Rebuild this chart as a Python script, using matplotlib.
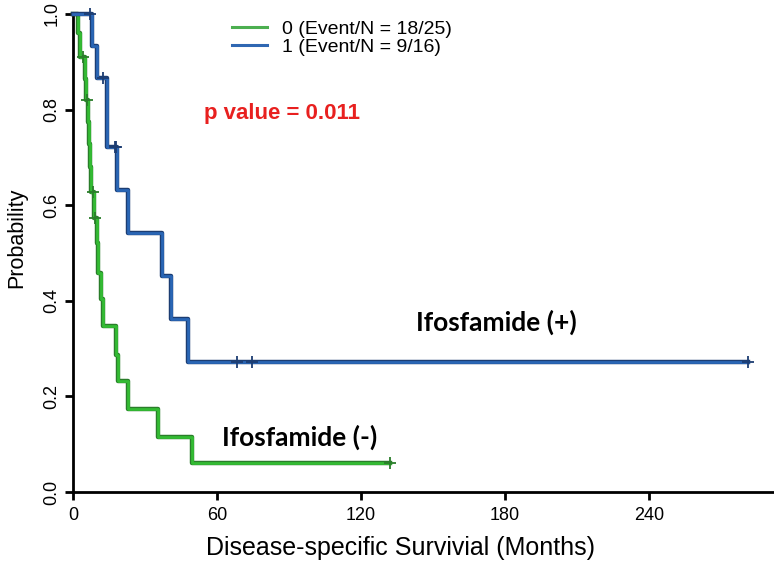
import numpy as np
import matplotlib
matplotlib.use("Agg")
import matplotlib.pyplot as plt
from matplotlib import font_manager
from matplotlib.lines import Line2D
import matplotlib.patheffects as pe

# ---------------- data ----------------
green_times = [0, 2.0, 3.0, 5.0, 5.5, 6.4, 6.6, 7.1, 7.5, 8.9, 10.0, 10.5, 11.7,
               12.6, 17.8, 18.9, 22.9, 35.4, 49.6]
green_surv = [1.0, 0.96, 0.91, 0.865, 0.82, 0.775, 0.728, 0.68, 0.628, 0.573,
              0.521, 0.459, 0.403, 0.347, 0.287, 0.232, 0.174, 0.115, 0.061]
green_censor = [4.2, 5.8, 8.5, 9.2, 132.0]

blue_times = [0, 7.8, 10.1, 14.0, 18.2, 23.0, 37.0, 41.0, 48.0]
blue_surv = [1.0, 0.933, 0.867, 0.722, 0.632, 0.542, 0.451, 0.361, 0.271]
blue_censor = [7.0, 12.6, 17.3, 17.8, 68.5, 74.5, 281.0]

legend_labels = ["0 (Event/N = 18/25)", "1 (Event/N = 9/16)"]
x_ticks = [0, 60, 120, 180, 240]
y_ticks = [0.0, 0.2, 0.4, 0.6, 0.8, 1.0]

# ---------------- fonts ----------------
names = {f.name for f in font_manager.fontManager.ttflist}
plt.rcParams['font.family'] = ['Liberation Sans', 'DejaVu Sans']
narrow = 'Liberation Sans Narrow' if 'Liberation Sans Narrow' in names else 'Liberation Sans'
bold_font = 'Lato' if 'Lato' in names else 'DejaVu Sans'

W, H = 774, 569
fig = plt.figure(figsize=(W / 100, H / 100), dpi=100)
x0, x1, ytop, ybot = 73, 774, 14, 492
ax = fig.add_axes([x0 / W, 1 - ybot / H, (x1 - x0) / W, (ybot - ytop) / H])
ax.set_xlim(0, 292)
ax.set_ylim(0, 1)

green_c, green_e = '#33bb33', '#2a7d2a'
blue_c, blue_e = '#2a66b5', '#1c3d72'


def km(ax, times, surv, censor, col, edge):
    end = max(censor)
    t = list(times) + [end]
    s = list(surv) + [surv[-1]]
    ax.step(t, s, where='post', color=col, lw=2.0, clip_on=False,
            path_effects=[pe.Stroke(linewidth=3.2, foreground=edge), pe.Normal()],
            zorder=3)
    idx = np.searchsorted(np.array(times), np.array(censor), side='right') - 1
    cy = np.array(surv)[idx]
    ax.plot(censor, cy, ls='none', marker='+', ms=9, mew=1.3, color=edge,
            clip_on=False, zorder=4)


km(ax, green_times, green_surv, green_censor, green_c, green_e)
km(ax, blue_times, blue_surv, blue_censor, blue_c, blue_e)

for s in ['top', 'right']:
    ax.spines[s].set_visible(False)
for s in ['left', 'bottom']:
    ax.spines[s].set_linewidth(2.0)
    ax.spines[s].set_color('black')

ax.set_xticks(x_ticks)
ax.set_xticklabels([str(v) for v in x_ticks], fontsize=13, family=narrow)
ax.set_yticks(y_ticks)
ax.set_yticklabels([f"{v:.1f}" for v in y_ticks], fontsize=13, rotation=90,
                   va='center')
ax.tick_params(axis='both', length=6, width=2, color='black')
ax.tick_params(axis='y', pad=3)
ax.tick_params(axis='x', pad=5)

handles = [Line2D([], [], color='#4caf50', lw=2.2), Line2D([], [], color='#2f67b2', lw=2.2)]
fig.legend(handles, legend_labels, loc='upper left',
           bbox_to_anchor=(232 / W, 1 - 20 / H), bbox_transform=fig.transFigure,
           frameon=False, fontsize=14, handlelength=1.8, handletextpad=0.75,
           labelspacing=0.05, borderpad=0, borderaxespad=0)

fig.text(204 / W, 1 - 113 / H, "p value = 0.011", color='#e8201f', fontsize=16,
         fontweight='bold', ha='left', va='center')

ax.text(143, 0.354, "Ifosfamide (+)", family=bold_font, fontweight='bold',
        fontsize=19, ha='left', va='center')
ax.text(62, 0.115, "Ifosfamide (-)", family=bold_font, fontweight='bold',
        fontsize=19, ha='left', va='center')

fig.text(401 / W, 1 - 548 / H, "Disease-specific Survivial (Months)", family=narrow,
         fontsize=18, ha='center', va='center')
fig.text(17 / W, 1 - 238 / H, "Probability", fontsize=15.5, rotation=90,
         ha='center', va='center')

fig.savefig('out.png', dpi=100)
